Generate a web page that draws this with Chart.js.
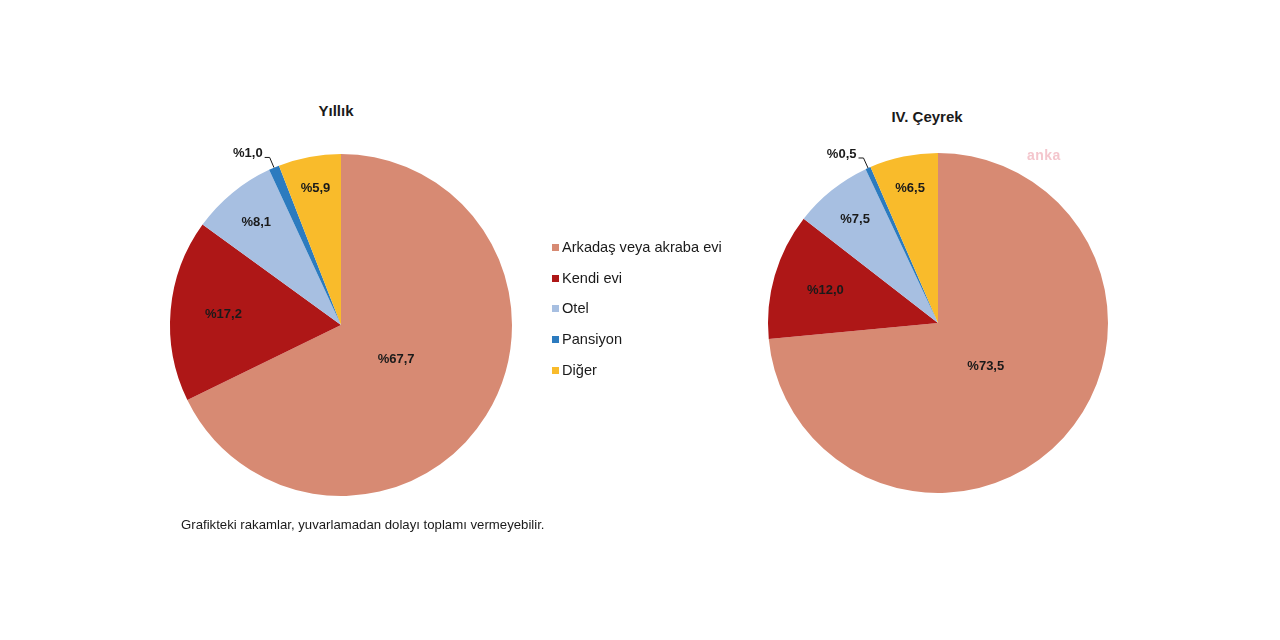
<!DOCTYPE html>
<html>
<head>
<meta charset="utf-8">
<script src="https://cdn.jsdelivr.net/npm/chart.js@4/dist/chart.umd.min.js"></script>
<style>
  body { margin: 0; background: #ffffff; font-family: Arial, "Liberation Sans", sans-serif; }
  #page { position: relative; width: 1280px; height: 640px; overflow: hidden; }
  .box { position: absolute; width: 440px; height: 440px; }
  .title { position: absolute; font-weight: bold; font-size: 15px; color: #1a1a1a; transform: translateX(-50%); white-space: nowrap; }
  #legend { position: absolute; left: 552px; top: 237px; font-size: 14.6px; color: #1a1a1a; }
  #legend div { height: 30.7px; line-height: 20px; white-space: nowrap; }
  #legend span { display: inline-block; width: 7px; height: 7px; margin-right: 3px; vertical-align: 1px; }
  #note { position: absolute; left: 181px; top: 517px; font-size: 13.2px; color: #1a1a1a; white-space: nowrap; }
  #mark { position: absolute; left: 1027px; top: 147px; font-size: 14px; font-weight: bold; color: #f4c6cd; letter-spacing: 0.5px; }
</style>
</head>
<body>
<div id="page">
  <div class="title" style="left:336px; top:102px;">Yıllık</div>
  <div class="title" style="left:927px; top:108px;">IV. Çeyrek</div>
  <div class="box" style="left:121px; top:105px;"><canvas id="pie_year"></canvas></div>
  <div class="box" style="left:718px; top:103px;"><canvas id="pie_q4"></canvas></div>
  <div id="legend"></div>
  <div id="note">Grafikteki rakamlar, yuvarlamadan dolayı toplamı vermeyebilir.</div>
  <div id="mark">anka</div>
</div>
<script>
const categories = ["Arkadaş veya akraba evi", "Kendi evi", "Otel", "Pansiyon", "Diğer"];
const yearly = [67.7, 17.2, 8.1, 1.0, 5.9];
const quarter4 = [73.5, 12.0, 7.5, 0.5, 6.5];

const colors = ['#d78a73', '#ae1717', '#a7bfe1', '#2c7bbf', '#f9bb2b'];
// how far from the centre each label sits (fraction of radius)
const labelDist = [0.38, 0.69, 0.78, 0, 0.81];

// legend
let legend = document.getElementById('legend');
categories.forEach(function(c, i) {
    let row = document.createElement('div');
    row.innerHTML = '<span style="background:' + colors[i] + '"></span>' + c;
    legend.appendChild(row);
});

function fmt(v) {
    return '%' + v.toFixed(1).replace('.', ',');
}

const pieLabels = {
    id: 'pieLabels',
    afterDatasetsDraw: (chart) => {
        const {ctx} = chart;
        const meta = chart.getDatasetMeta(0);
        const values = chart.data.datasets[0].data;
        ctx.save();
        ctx.font = 'bold 13px Arial, "Liberation Sans", sans-serif';
        ctx.fillStyle = '#1a1a1a';
        ctx.strokeStyle = '#1a1a1a';
        ctx.lineWidth = 1;
        meta.data.forEach(function(arc, i) {
            const p = arc.getProps(['x', 'y', 'startAngle', 'endAngle', 'outerRadius'], true);
            const mid = (p.startAngle + p.endAngle) / 2;
            const cx = Math.cos(mid), cy = Math.sin(mid);
            if (values[i] < 2) {
                // small slice: label outside with a leader line
                const ex = p.x + cx * p.outerRadius, ey = p.y + cy * p.outerRadius;
                const bx = p.x + cx * p.outerRadius * 1.065, by = p.y + cy * p.outerRadius * 1.065;
                ctx.beginPath();
                ctx.moveTo(ex, ey);
                ctx.lineTo(bx, by);
                ctx.lineTo(bx - 5, by);
                ctx.stroke();
                ctx.textAlign = 'right';
                ctx.textBaseline = 'middle';
                ctx.fillText(fmt(values[i]), bx - 7, by - 4);
            } else {
                const r = p.outerRadius * labelDist[i];
                ctx.textAlign = 'center';
                ctx.textBaseline = 'middle';
                ctx.fillText(fmt(values[i]), p.x + cx * r, p.y + cy * r);
            }
        });
        ctx.restore();
    }
};

function makePie(id, values, pad) {
    return new Chart(document.getElementById(id).getContext('2d'), {
        type: 'pie',
        data: {
            labels: categories,
            datasets: [{
                data: values,
                backgroundColor: colors,
                borderWidth: 0
            }]
        },
        options: {
            responsive: true,
            maintainAspectRatio: false,
            animation: false,
            layout: { padding: pad },
            plugins: {
                legend: { display: false },
                tooltip: { enabled: false }
            }
        },
        plugins: [pieLabels]
    });
}

const yearly_chart = makePie('pie_year', yearly, 49);
const q4_chart = makePie('pie_q4', quarter4, 50);
</script>
</body>
</html>
